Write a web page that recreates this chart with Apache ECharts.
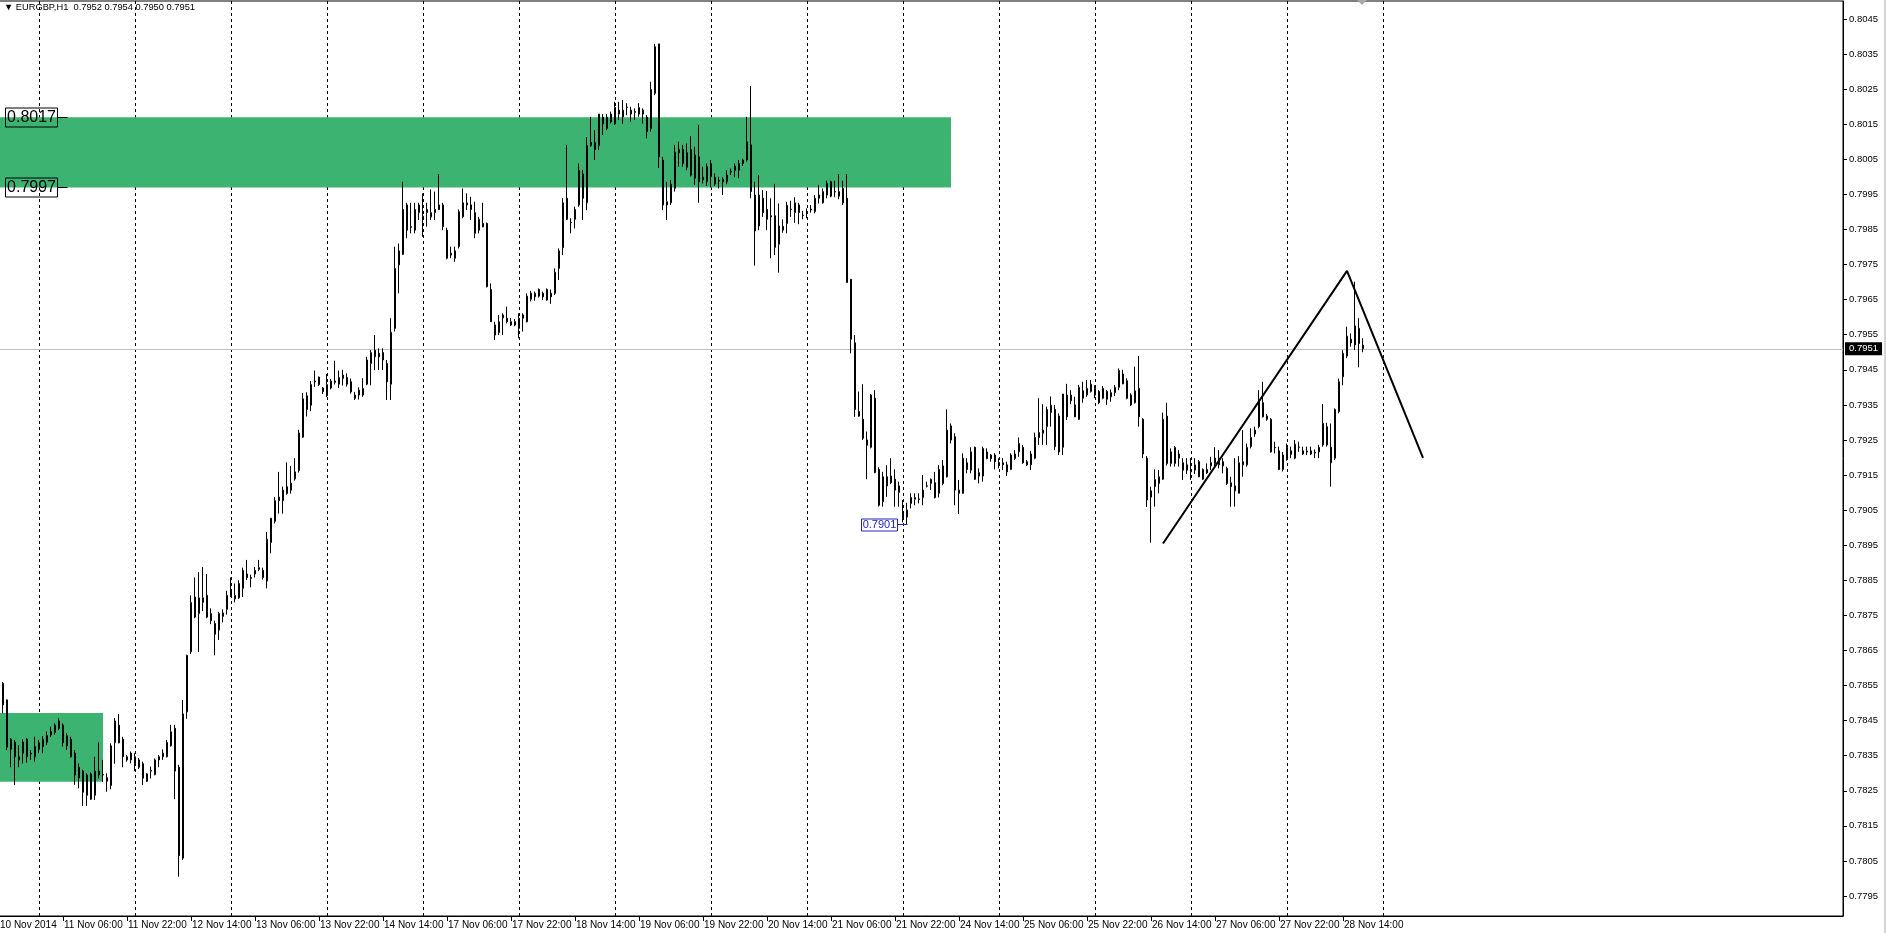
<!DOCTYPE html>
<html><head><meta charset="utf-8">
<script src="https://cdn.jsdelivr.net/npm/echarts@6/dist/echarts.min.js"></script>
<style>html,body{margin:0;padding:0;background:#fff;overflow:hidden}#c{width:1886px;height:933px}</style>
</head><body><div id="c"></div>
<script>
// ---------- data ----------
const symbolTitle = 'EURGBP,H1';
const headerQuote = [0.7952, 0.7954, 0.7950, 0.7951];
const timeTickLabels = ['10 Nov 2014','11 Nov 06:00','11 Nov 22:00','12 Nov 14:00','13 Nov 06:00','13 Nov 22:00','14 Nov 14:00','17 Nov 06:00','17 Nov 22:00','18 Nov 14:00','19 Nov 06:00','19 Nov 22:00','20 Nov 14:00','21 Nov 06:00','21 Nov 22:00','24 Nov 14:00','25 Nov 06:00','25 Nov 22:00','26 Nov 14:00','27 Nov 06:00','27 Nov 22:00','28 Nov 14:00'];
const timeTickEvery = 16;
const dayStartBars = [10,34,58,82,106,130,154,178,202,226,250,274,298,322,346];
const priceTicks = [0.7795,0.7805,0.7815,0.7825,0.7835,0.7845,0.7855,0.7865,0.7875,0.7885,0.7895,0.7905,0.7915,0.7925,0.7935,0.7945,0.7955,0.7965,0.7975,0.7985,0.7995,0.8005,0.8015,0.8025,0.8035,0.8045];
const currentPrice = 0.7951;

const open = [
.78510,.78556,.78509,.78368,.78389,.78338,.78357,.78397,.78357,.78347,
.78368,.78397,.78388,.78419,.78416,.78449,.78437,.78378,.78397,.78357,
.78286,.78306,.78237,.78298,.78237,.78295,.78295,.78287,.78265,.78387,
.78437,.78397,.78338,.78357,.78327,.78338,.78327,.78277,.78306,.78296,
.78347,.78347,.78347,.78378,.78428,.78317,.78058,.78475,.78646,.78802,
.78755,.78787,.78807,.78755,.78727,.78708,.78747,.78767,.78820,.78797,
.78800,.78827,.78868,.78855,.78868,.78881,.78878,.78848,.78958,.79018,
.79087,.79077,.79097,.79107,.79139,.79163,.79258,.79376,.79349,.79416,
.79429,.79398,.79376,.79398,.79414,.79409,.79425,.79428,.79416,.79378,
.79378,.79378,.79409,.79468,.79487,.79497,.79499,.79468,.79409,.79568,
.79749,.79779,.79920,.79858,.79848,.79898,.79886,.79898,.79898,.79898,
.79920,.79920,.79848,.79782,.79768,.79801,.79886,.79920,.79920,.79898,
.79848,.79867,.79867,.79679,.79578,.79556,.79598,.79597,.79587,.79587,
.79568,.79606,.79587,.79668,.79658,.79660,.79668,.79649,.79668,.79668,
.79739,.79798,.79939,.79869,.79879,.79920,.80008,.79926,.80098,.80098,
.80089,.80170,.80138,.80179,.80151,.80190,.80171,.80198,.80190,.80186,
.80179,.80190,.80170,.80138,.80238,.80379,.80048,.79920,.79926,.79967,
.80078,.80078,.80027,.80078,.79996,.80057,.79999,.79986,.80038,.79980,
.79989,.79993,.79986,.80014,.80018,.80019,.80048,.80048,.80091,.79948,
.79860,.79939,.79907,.79889,.79889,.79808,.79848,.79867,.79907,.79898,
.79920,.79890,.79900,.79906,.79901,.79948,.79926,.79948,.79986,.79958,
.79945,.79967,.79939,.79708,.79527,.79331,.79309,.79250,.79229,.79369,
.79166,.79074,.79145,.79147,.79138,.79100,.79045,.79030,.79069,.79081,
.79080,.79086,.79118,.79126,.79128,.79098,.79126,.79145,.79290,.79259,
.79098,.79098,.79185,.79164,.79229,.79147,.79147,.79216,.79207,.79207,
.79185,.79179,.79179,.79166,.79197,.79216,.79229,.79179,.79179,.79198,
.79271,.79269,.79288,.79328,.79337,.79318,.79229,.79316,.79378,.79350,
.79309,.79390,.79378,.79388,.79378,.79388,.79369,.79388,.79373,.79385,
.79400,.79438,.79419,.79378,.79356,.79397,.79309,.79198,.79087,.79117,
.79126,.79138,.79318,.79183,.79183,.79210,.79185,.79179,.79159,.79164,
.79188,.79138,.79156,.79176,.79198,.79179,.79188,.79169,.79117,.79119,
.79098,.79179,.79179,.79231,.79267,.79288,.79356,.79309,.79309,.79229,
.79219,.79166,.79198,.79219,.79198,.79229,.79219,.79218,.79210,.79215,
.79216,.79236,.79288,.79229,.79198,.79331,.79430,.79489,.79537,.79521,
.79568,.79520];

const high = [
.78570,.78560,.78510,.78400,.78395,.78380,.78397,.78400,.78366,.78404,
.78395,.78406,.78419,.78433,.78442,.78457,.78442,.78414,.78404,.78366,
.78328,.78310,.78300,.78302,.78347,.78388,.78338,.78300,.78385,.78457,
.78469,.78404,.78352,.78362,.78357,.78343,.78333,.78300,.78319,.78342,
.78352,.78368,.78395,.78438,.78438,.78324,.78509,.78638,.78807,.78858,
.78873,.78888,.78868,.78770,.78735,.78760,.78767,.78820,.78858,.78841,
.78850,.78886,.78908,.78866,.78888,.78908,.78886,.78988,.79027,.79087,
.79159,.79117,.79186,.79176,.79198,.79279,.79384,.79386,.79418,.79448,
.79431,.79401,.79438,.79424,.79476,.79448,.79450,.79440,.79425,.79387,
.79400,.79426,.79487,.79506,.79549,.79511,.79511,.79478,.79597,.79801,
.79810,.79986,.79926,.79926,.79926,.79926,.79953,.79926,.79964,.79958,
.80008,.79926,.79855,.79801,.79801,.79907,.79967,.79953,.79943,.79929,
.79886,.79926,.79870,.79696,.79587,.79606,.79611,.79630,.79597,.79595,
.79611,.79611,.79668,.79675,.79673,.79682,.79673,.79682,.79679,.79739,
.79796,.79939,.80091,.79882,.79915,.80038,.80020,.80113,.80171,.80133,
.80179,.80179,.80179,.80186,.80214,.80214,.80219,.80210,.80200,.80195,
.80210,.80195,.80176,.80271,.80379,.80379,.80057,.79986,.79991,.80091,
.80100,.80091,.80095,.80116,.80086,.80148,.80029,.80038,.80048,.80010,
.80000,.79999,.80019,.80024,.80038,.80048,.80052,.80171,.80259,.79986,
.80005,.79962,.79960,.79939,.79980,.79924,.79879,.79929,.79932,.79942,
.79926,.79903,.79910,.79920,.79948,.79977,.79967,.79989,.79989,.79989,
.80008,.79989,.80008,.79708,.79549,.79388,.79409,.79274,.79381,.79392,
.79172,.79159,.79178,.79198,.79166,.79131,.79079,.79071,.79098,.79098,
.79098,.79150,.79131,.79140,.79159,.79178,.79193,.79337,.79297,.79269,
.79136,.79212,.79198,.79229,.79231,.79169,.79231,.79226,.79210,.79212,
.79198,.79198,.79188,.79212,.79221,.79257,.79236,.79193,.79219,.79271,
.79369,.79352,.79345,.79374,.79350,.79326,.79381,.79410,.79392,.79373,
.79407,.79416,.79421,.79421,.79406,.79392,.79404,.79392,.79394,.79407,
.79454,.79450,.79426,.79383,.79459,.79489,.79312,.79204,.79117,.79166,
.79164,.79328,.79356,.79226,.79233,.79221,.79198,.79198,.79198,.79198,
.79193,.79169,.79183,.79202,.79229,.79221,.79198,.79174,.79145,.79198,
.79204,.79278,.79240,.79283,.79288,.79392,.79416,.79324,.79312,.79245,
.79231,.79216,.79240,.79231,.79250,.79245,.79231,.79231,.79231,.79223,
.79236,.79352,.79299,.79297,.79340,.79425,.79506,.79573,.79554,.79701,
.79597,.79540];

const low = [
.78490,.78471,.78366,.78317,.78266,.78317,.78328,.78330,.78338,.78333,
.78357,.78357,.78380,.78403,.78410,.78423,.78376,.78366,.78345,.78267,
.78257,.78207,.78207,.78224,.78224,.78285,.78275,.78247,.78254,.78327,
.78385,.78317,.78333,.78328,.78306,.78312,.78266,.78275,.78285,.78294,
.78317,.78338,.78345,.78376,.78226,.78005,.78053,.78455,.78640,.78742,
.78646,.78762,.78742,.78725,.78636,.78680,.78730,.78752,.78802,.78787,
.78797,.78802,.78851,.78830,.78858,.78876,.78852,.78827,.78927,.79012,
.79040,.79040,.79094,.79097,.79134,.79157,.79256,.79317,.79332,.79401,
.79404,.79381,.79372,.79394,.79408,.79398,.79405,.79402,.79382,.79364,
.79365,.79373,.79406,.79406,.79449,.79449,.79449,.79364,.79364,.79559,
.79668,.79777,.79825,.79839,.79839,.79877,.79829,.79858,.79877,.79877,
.79905,.79848,.79765,.79768,.79758,.79796,.79882,.79905,.79877,.79825,
.79839,.79856,.79685,.79587,.79535,.79549,.79549,.79582,.79575,.79574,
.79540,.79559,.79585,.79645,.79647,.79656,.79649,.79647,.79638,.79663,
.79706,.79777,.79877,.79839,.79853,.79915,.79877,.79905,.80086,.80048,
.80076,.80119,.80133,.80152,.80148,.80162,.80151,.80176,.80157,.80162,
.80171,.80152,.80110,.80129,.80233,.80025,.79905,.79877,.79920,.79958,
.80029,.80029,.80019,.80001,.79977,.79926,.79981,.79974,.79970,.79974,
.79967,.79948,.79979,.80005,.79999,.79996,.80031,.80043,.79939,.79747,
.79848,.79886,.79848,.79768,.79777,.79727,.79841,.79839,.79886,.79869,
.79865,.79879,.79882,.79898,.79896,.79924,.79924,.79939,.79942,.79942,
.79936,.79920,.79699,.79497,.79316,.79316,.79250,.79138,.79226,.79155,
.79060,.79060,.79088,.79124,.79060,.79060,.79015,.79010,.79055,.79064,
.79069,.79064,.79115,.79107,.79083,.79086,.79121,.79143,.79240,.79064,
.79039,.79096,.79155,.79155,.79136,.79126,.79131,.79195,.79188,.79166,
.79169,.79164,.79147,.79164,.79193,.79202,.79182,.79176,.79164,.79195,
.79236,.79236,.79236,.79288,.79221,.79207,.79207,.79307,.79352,.79315,
.79307,.79356,.79373,.79385,.79369,.79352,.79366,.79350,.79359,.79375,
.79392,.79409,.79366,.79347,.79354,.79288,.79198,.79059,.78957,.79060,
.79098,.79136,.79177,.79174,.79174,.79174,.79136,.79153,.79136,.79153,
.79144,.79136,.79153,.79164,.79172,.79169,.79155,.79122,.79060,.79060,
.79098,.79145,.79174,.79226,.79259,.79283,.79314,.79305,.79214,.79212,
.79164,.79160,.79191,.79198,.79195,.79216,.79207,.79207,.79207,.79198,
.79198,.79231,.79231,.79117,.79193,.79326,.79406,.79483,.79516,.79506,
.79457,.79500];

const close = [
.78556,.78495,.78374,.78397,.78347,.78347,.78389,.78347,.78355,.78376,
.78387,.78376,.78407,.78409,.78437,.78428,.78387,.78407,.78347,.78295,
.78317,.78246,.78295,.78226,.78306,.78306,.78296,.78277,.78378,.78449,
.78387,.78347,.78347,.78338,.78347,.78317,.78286,.78298,.78308,.78338,
.78338,.78357,.78388,.78418,.78306,.78065,.78469,.78636,.78787,.78745,
.78800,.78800,.78745,.78735,.78696,.78755,.78757,.78807,.78807,.78807,
.78841,.78878,.78858,.78858,.78878,.78886,.78858,.78967,.79027,.79077,
.79077,.79107,.79117,.79127,.79159,.79270,.79367,.79337,.79408,.79418,
.79408,.79388,.79408,.79418,.79418,.79428,.79435,.79409,.79387,.79369,
.79392,.79397,.79478,.79499,.79506,.79487,.79478,.79416,.79557,.79739,
.79789,.79907,.79848,.79856,.79907,.79920,.79888,.79907,.79886,.79907,
.79907,.79858,.79768,.79777,.79789,.79901,.79926,.79926,.79907,.79839,
.79879,.79858,.79687,.79587,.79549,.79587,.79606,.79587,.79578,.79578,
.79597,.79597,.79660,.79651,.79668,.79679,.79658,.79679,.79658,.79728,
.79789,.79926,.79879,.79870,.79907,.80018,.79939,.80089,.80089,.80078,
.80179,.80151,.80170,.80157,.80198,.80179,.80190,.80199,.80179,.80184,
.80198,.80179,.80129,.80249,.80371,.80057,.79920,.79929,.79979,.80070,
.80069,.80038,.80069,.80005,.80062,.79986,.79991,.80029,.80001,.79999,
.79988,.79986,.80005,.80016,.80031,.80038,.80038,.80100,.79958,.79846,
.79948,.79898,.79879,.79886,.79799,.79860,.79859,.79919,.79908,.79926,
.79898,.79891,.79901,.79908,.79939,.79939,.79958,.79981,.79945,.79957,
.79958,.79926,.79699,.79537,.79337,.79318,.79255,.79235,.79378,.79157,
.79064,.79145,.79119,.79128,.79107,.79119,.79026,.79050,.79086,.79086,
.79082,.79107,.79119,.79138,.79086,.79166,.79176,.79278,.79250,.79107,
.79107,.79198,.79166,.79216,.79138,.79157,.79226,.79197,.79197,.79188,
.79186,.79185,.79159,.79207,.79210,.79240,.79185,.79188,.79210,.79257,
.79257,.79278,.79337,.79349,.79231,.79216,.79381,.79378,.79362,.79316,
.79400,.79369,.79397,.79409,.79397,.79356,.79397,.79366,.79385,.79400,
.79448,.79410,.79369,.79350,.79390,.79316,.79210,.79079,.79105,.79137,
.79145,.79309,.79183,.79216,.79229,.79198,.79164,.79164,.79160,.79179,
.79145,.79166,.79166,.79185,.79183,.79198,.79176,.79126,.79128,.79105,
.79185,.79188,.79229,.79257,.79278,.79364,.79316,.79318,.79216,.79228,
.79166,.79207,.79229,.79209,.79238,.79230,.79210,.79216,.79219,.79213,
.79229,.79297,.79236,.79185,.79337,.79416,.79497,.79546,.79527,.79575,
.79525,.79510];

// drawn objects (anchored to bar index and price)
const zoneTopBand   = { fromBar: 0, toBar: 238, upper: 0.8017, lower: 0.7997 };
const zoneBaseBand  = { fromBar: 0, toBar: 26,  upper: 0.78472, lower: 0.78276 };
const leftPriceLabels = [[17, 0.8017], [17, 0.7997]];
const lowPriceLabels  = [[227, 0.7901]];
const trendLinePoints = [[291, 0.78955], [337, 0.79732], [356, 0.79199]];

// ---------- build ----------
const totalSlots = 462;
const cats = Array.from({length: totalSlots}, (_, i) => String(i));
const candleRows = open.map((o, i) => [o, close[i], low[i], high[i]]);

const FONT = '"Liberation Sans", Arial, "Noto Sans", sans-serif';

function priceLabelRenderer(boxW, boxH, fontSpec, color, fill) {
  return function (params, api) {
    const p = api.coord([api.value(0), api.value(1)]);
    const x = Math.round(p[0]) + 0.5, y = Math.round(p[1]) + 0.5;
    const bx = x - 10 - boxW;
    return {
      type: 'group',
      children: [
        { type: 'line', shape: { x1: x - 10, y1: y, x2: x, y2: y }, style: { stroke: color, lineWidth: 1 } },
        { type: 'rect', shape: { x: bx, y: Math.round(y - boxH / 2), width: boxW, height: boxH }, style: { fill: fill, stroke: color, lineWidth: 1 } },
        { type: 'text', x: bx + boxW / 2, y: y + 0.5,
          style: { text: api.value(1).toFixed(4), fill: color, font: fontSpec,
                   align: 'center', verticalAlign: 'middle', textAlign: 'center', textVerticalAlign: 'middle' } }
      ]
    };
  };
}

const isTimeTick = (i) => i % timeTickEvery === 0 && i / timeTickEvery < timeTickLabels.length;

const chart = echarts.init(document.getElementById('c'), null, { renderer: 'canvas' });
chart.setOption({
  animation: false,
  backgroundColor: '#fff',
  title: {
    text: '\u25BC ' + symbolTitle + '  ' + headerQuote.map(v => v.toFixed(4)).join(' '),
    left: 4, top: 3, padding: 0,
    textStyle: { fontSize: 9.3, fontWeight: 'normal', fontFamily: FONT, color: '#000' }
  },
  grid: { left: -1, right: 43, top: 1, bottom: 17, outerBoundsMode: 'none', containLabel: false,
          show: true, borderColor: '#000', borderWidth: 1, backgroundColor: 'transparent' },
  xAxis: {
    type: 'category', data: cats, boundaryGap: false,
    axisLine: { show: true, lineStyle: { color: '#000', width: 1 } },
    axisTick: { show: true, length: 5, lineStyle: { color: '#000' }, interval: isTimeTick },
    axisLabel: { show: true, color: '#000', fontSize: 10, fontFamily: FONT, align: 'left', margin: 4, padding: [0, 0, 0, 1],
      interval: isTimeTick, hideOverlap: false,
      formatter: (v) => timeTickLabels[Math.round(Number(v) / timeTickEvery)] || '' },
    splitLine: { show: true, interval: (i) => dayStartBars.indexOf(i) >= 0,
      lineStyle: { color: '#000', width: 1, type: [3, 3] } }
  },
  yAxis: {
    type: 'value', position: 'right', min: 0.77893, max: 0.805013,
    axisLine: { show: true, lineStyle: { color: '#000', width: 1 } },
    axisTick: { show: true, length: 4, lineStyle: { color: '#000' }, customValues: priceTicks },
    axisLabel: { show: true, color: '#000', fontSize: 9.5, fontFamily: FONT, margin: 6, customValues: priceTicks,
      formatter: (v) => Number(v).toFixed(4) },
    splitLine: { show: false }
  },
  graphic: [
    { type: 'polygon', shape: { points: [[1357, 0], [1367, 0], [1362, 5]] }, style: { fill: '#a8a8a8' }, z: 100 },
    { type: 'rect', shape: { x: 1884, y: 0, width: 2, height: 933 }, style: { fill: '#d4d4d4' }, z: 100 }
  ],
  series: [
    {
      type: 'candlestick', data: candleRows, barWidth: 2, z: 2, silent: true,
      itemStyle: { color: '#fff', color0: '#000', borderColor: '#000', borderColor0: '#000', borderWidth: 1 },
      markArea: {
        silent: true, z: 1,
        itemStyle: { color: '#3cb371', opacity: 1 },
        label: { show: false },
        data: [zoneTopBand, zoneBaseBand].map(z => [
          { xAxis: z.fromBar, yAxis: z.upper }, { xAxis: z.toBar, yAxis: z.lower }
        ])
      }
    },
    {
      type: 'line', data: trendLinePoints, showSymbol: false, symbol: 'none', silent: true, z: 4,
      lineStyle: { color: '#000', width: 2 },
      markLine: {
        silent: true, symbol: ['none', 'none'], animation: false, z: 1, precision: 5,
        lineStyle: { color: '#c0c0c0', type: 'solid', width: 1 },
        label: { show: true, position: 'end', distance: 2, formatter: () => currentPrice.toFixed(4),
          color: '#fff', backgroundColor: '#000', fontSize: 9.5, fontFamily: FONT, padding: [2, 4, 1, 4] },
        emphasis: { disabled: true },
        data: [{ yAxis: currentPrice }]
      }
    },
    {
      type: 'custom', data: leftPriceLabels, silent: true, z: 6,
      renderItem: priceLabelRenderer(52, 19, '16px ' + FONT, '#000', 'rgba(0,0,0,0)')
    },
    {
      type: 'custom', data: lowPriceLabels, silent: true, z: 6,
      renderItem: priceLabelRenderer(36, 12, '11px ' + FONT, '#2222bb', '#fff')
    }
  ]
});
</script>
</body></html>
